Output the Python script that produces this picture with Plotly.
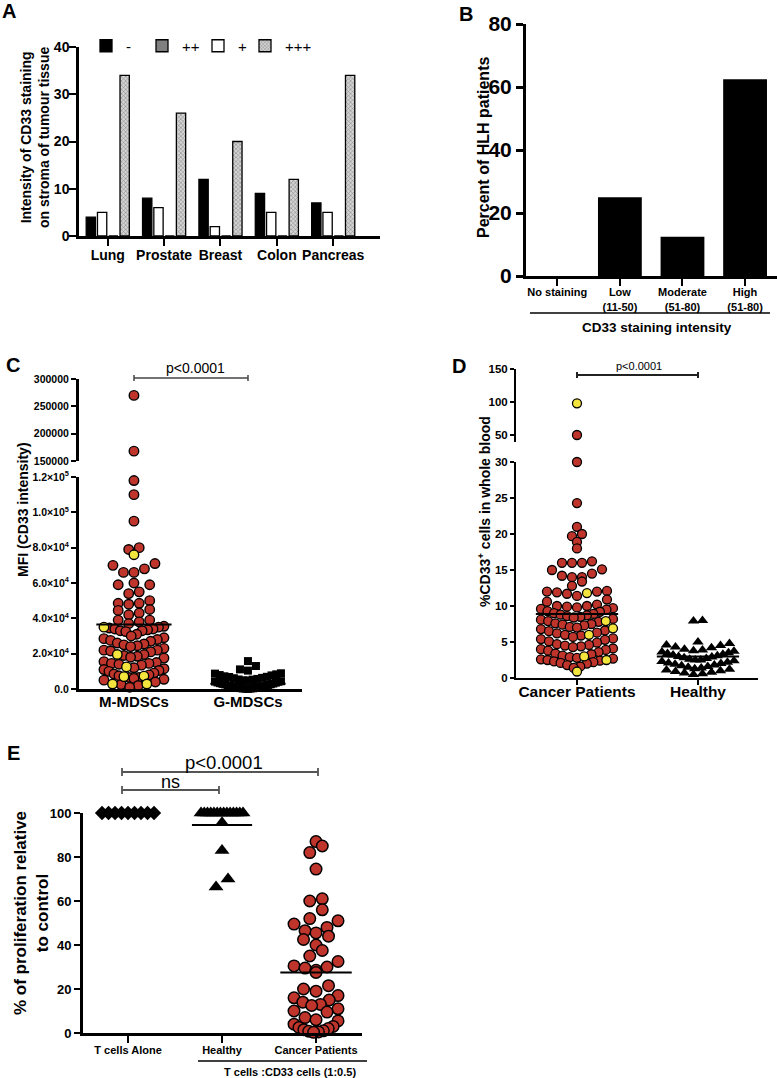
import math
import plotly.graph_objects as go

# ------------------------------------------------------------------ data
# Panel A
a_categories = ["Lung", "Prostate", "Breast", "Colon", "Pancreas"]
a_neg = [4, 8, 12, 9, 7]          # "-"
a_plus = [5, 6, 2, 5, 5]          # "+"
a_plus2 = [0, 0, 0, 0, 0]         # "++"
a_plus3 = [34, 26, 20, 12, 34]    # "+++"
a_yticks = [0, 10, 20, 30, 40]

# Panel B
b_categories = ["No staining", "Low<br>(11-50)", "Moderate<br>(51-80)", "High<br>(51-80)"]
b_values = [0, 25, 12.5, 62.5]
b_yticks = [0, 20, 40, 60, 80]

# Panel C
c_categories = ["M-MDSCs", "G-MDSCs"]
c_m_red = [270000, 168000, 118000, 110000, 95000, 80000, 79000, 71000, 70000, 68000,
           66000, 66000, 60000, 59000, 59000, 55000, 54000, 50000, 48500, 48500, 48000,
           45000, 44500, 43000, 42000, 39000, 39000, 38000, 37000, 35500, 35000, 34500,
           34000, 34000, 33500, 33000, 33000, 32500, 31000, 30000, 29000, 28500, 28000,
           27500, 27000, 26000, 25500, 25000, 24500, 24000, 23000, 22000, 22000, 21500,
           21000, 19500, 19000, 18500, 18000, 17500, 15500, 15000, 14500, 14500, 14000,
           13500, 12000, 11500, 11000, 10500, 10000, 9000, 8500, 8000, 7500, 6500, 6500,
           6000, 5500, 5000, 4000, 2500, 2000, 1000]
c_m_yellow = [76000, 35000, 19500, 12500, 7300, 7000, 2800, 2800]
c_g_black = [15800, 13000, 11100, 10400, 8900, 8700, 8300, 7900, 7700, 7200, 6900, 6800,
             6300, 6100, 5700, 5400, 5300, 4900, 4800, 4400, 4200, 4100, 3700, 3600, 3300,
             3100, 2900, 2700, 2600, 2300, 2100, 2000, 1700, 1500, 1400, 1200, 1100, 900,
             800, 600, 500, 400, 300, 250, 200, 100]
c_means = [36500, 3000]
c_low_ticks = [0, 20000, 40000, 60000, 80000, 100000, 120000]
c_low_ticktext = ["0.0", "2.0×10<sup>4</sup>", "4.0×10<sup>4</sup>", "6.0×10<sup>4</sup>",
                  "8.0×10<sup>4</sup>", "1.0×10<sup>5</sup>", "1.2×10<sup>5</sup>"]
c_up_ticks = [150000, 200000, 250000, 300000]
c_up_ticktext = ["150000", "200000", "250000", "300000"]

# Panel D
d_categories = ["Cancer Patients", "Healthy"]
d_cancer_red = [50, 30, 24.3, 21.0, 20.0, 19.7, 18.9, 18.0, 16.2, 16.0, 16.0, 16.0, 15.1,
                15.0, 14.5, 14.2, 14.0, 14.0, 13.4, 12.8, 12.1, 12.0, 12.0, 11.9, 11.7, 11.4,
                10.9, 10.6, 10.2, 10.0, 10.0, 9.9, 9.8, 9.7, 9.6, 9.5, 9.3, 9.2, 9.0, 8.9,
                8.8, 8.7, 8.6, 8.5, 8.4, 8.2, 8.1, 7.9, 7.8, 7.6, 7.5, 7.4, 7.3, 7.1, 7.0,
                6.8, 6.6, 6.5, 6.3, 6.2, 6.0, 5.9, 5.7, 5.5, 5.4, 5.3, 5.1, 4.9, 4.7, 4.6,
                4.5, 4.4, 4.3, 4.1, 4.0, 3.9, 3.8, 3.6, 3.4, 3.3, 3.1, 2.9, 2.8, 2.7, 2.6,
                2.5, 2.4, 2.3, 2.2, 2.1, 2.0, 1.8, 1.6, 1.4]
d_cancer_yellow = [98, 11.8, 7.9, 6.9, 6.0, 3.0, 2.5, 0.9]
d_healthy = [8.0, 7.9, 5.0, 4.8, 4.6, 4.5, 4.3, 4.2, 4.0, 3.9, 3.8, 3.7, 3.6, 3.5, 3.4,
             3.3, 3.2, 3.1, 3.0, 2.9, 2.8, 2.7, 2.6, 2.5, 2.5, 2.4, 2.3, 2.2, 2.1, 2.0,
             1.9, 1.8, 1.7, 1.6, 1.5, 1.4, 1.3, 1.2, 1.1, 1.0, 0.9, 0.8, 0.7, 0.6, 0.5]
d_means = [8.9, 3.0]
d_low_ticks = [0, 5, 10, 15, 20, 25, 30]
d_up_ticks = [50, 100, 150]

# Panel E
e_categories = ["T cells Alone", "Healthy", "Cancer Patients"]
e_alone = [100, 100, 100, 100, 100, 100, 100, 100, 100]
e_healthy = [100, 100, 100, 100, 100, 100, 100, 100, 100, 100, 100, 100, 100, 100,
             95.6, 83, 70, 66.4]
e_cancer = [87, 85, 82, 74.5, 61, 60, 56, 52, 51, 49.5, 48, 46.5, 45.5, 44, 42.5, 40,
            37.5, 35, 32.5, 30.5, 30, 29.5, 28.5, 27.5, 21.5, 20, 19, 17, 16, 15, 14, 13,
            12.5, 11, 10, 9.5, 7, 6, 5.5, 4, 3, 2.5, 2, 1.5, 1, 0.8, 0.5, 0.3]
e_means = [100, 94.5, 27.5]
e_yticks = [0, 20, 40, 60, 80, 100]

# ------------------------------------------------------------------ helpers
W, H = 777, 1078
def X(p): return p / W
def Y(p): return 1 - p / H

FONT = "Liberation Sans, Arial, Helvetica, sans-serif"
RED = "#c0352b"
YEL = "#f3e53d"


def swarm(values, y_px_per_unit, x_px_per_unit, d, max_hw):
    """GraphPad-like scatter: bin by height d px, spread each bin sideways."""
    order = sorted(range(len(values)), key=lambda i: values[i])
    bins = {}
    for i in order:
        bins.setdefault(math.floor(values[i] * y_px_per_unit / d + 1e-9), []).append(i)
    off = [0.0] * len(values)
    for members in bins.values():
        n = len(members)
        if n == 1:
            continue
        s = min(d, 2 * max_hw / (n - 1))
        slots = sorted([(k - (n - 1) / 2) * s for k in range(n)],
                       key=lambda v: (round(abs(v), 6), v))
        for m, sl in zip(members, slots):
            off[m] = sl / x_px_per_unit
    return off


fig = go.Figure()

# ------------------------------------------------------------------ Panel A
pattern3 = dict(shape="x", fgcolor="#3a3a3a", bgcolor="#d4d4d4", size=3, solidity=0.35)
a_series = [
    ("-", a_neg, "#000000", None, "legend"),
    ("+", a_plus, "#ffffff", None, "legend3"),
    ("++", a_plus2, "#808080", None, "legend2"),
    ("+++", a_plus3, "#c8c8c8", pattern3, "legend4"),
]
for name, vals, col, pat, leg in a_series:
    marker = dict(color=col, line=dict(color="black", width=1.3))
    if pat:
        marker["pattern"] = pat
    fig.add_trace(go.Bar(x=a_categories, y=vals, name=name, marker=marker,
                         xaxis="x", yaxis="y", legend=leg, showlegend=True))

# ------------------------------------------------------------------ Panel B
fig.add_trace(go.Bar(x=b_categories, y=b_values, width=0.7,
                     marker=dict(color="black", line=dict(color="black", width=0)),
                     xaxis="x2", yaxis="y2", showlegend=False))

# ------------------------------------------------------------------ Panel C
C_YPP = 212 / 120000
C_XPP = 114
C_BREAK = 130000
m_all = [(v, RED) for v in c_m_red] + [(v, YEL) for v in c_m_yellow]
m_low = [p for p in m_all if p[0] <= C_BREAK]
m_up = [p for p in m_all if p[0] > C_BREAK]
off = swarm([v for v, _ in m_low], C_YPP, C_XPP, 10.5, 30)
for col in (RED, YEL):
    xs = [0 + o for (v, c), o in zip(m_low, off) if c == col]
    ys = [v for (v, c) in m_low if c == col]
    fig.add_trace(go.Scatter(x=xs, y=ys, mode="markers", xaxis="x3", yaxis="y3",
                             marker=dict(symbol="circle", size=9.5, color=col,
                                         line=dict(color="black", width=1.4)),
                             cliponaxis=False, showlegend=False))
fig.add_trace(go.Scatter(x=[0] * len(m_up), y=[v for v, _ in m_up], mode="markers",
                         xaxis="x3", yaxis="y4",
                         marker=dict(symbol="circle", size=9.5, color=[c for _, c in m_up],
                                     line=dict(color="black", width=1.4)),
                         cliponaxis=False, showlegend=False))
goff = swarm(c_g_black, C_YPP, C_XPP, 8, 33)
fig.add_trace(go.Scatter(x=[1 + o for o in goff], y=c_g_black, mode="markers",
                         xaxis="x3", yaxis="y3",
                         marker=dict(symbol="square", size=8, color="black"),
                         cliponaxis=False, showlegend=False))
for i, m in enumerate(c_means):
    fig.add_trace(go.Scatter(x=[i - 0.33, i + 0.33], y=[m, m], mode="lines",
                             line=dict(color="black", width=2), xaxis="x3", yaxis="y3",
                             cliponaxis=False, showlegend=False))

# ------------------------------------------------------------------ Panel D
D_YPP = 216 / 30
D_XPP = 121
D_BREAK = 35
d_all = [(v, RED) for v in d_cancer_red] + [(v, YEL) for v in d_cancer_yellow]
d_low = [p for p in d_all if p[0] <= D_BREAK]
d_up = [p for p in d_all if p[0] > D_BREAK]
off = swarm([v for v, _ in d_low], D_YPP, D_XPP, 10, 36)
for col in (RED, YEL):
    xs = [0 + o for (v, c), o in zip(d_low, off) if c == col]
    ys = [v for (v, c) in d_low if c == col]
    fig.add_trace(go.Scatter(x=xs, y=ys, mode="markers", xaxis="x5", yaxis="y5",
                             marker=dict(symbol="circle", size=9, color=col,
                                         line=dict(color="black", width=1.3)),
                             cliponaxis=False, showlegend=False))
fig.add_trace(go.Scatter(x=[0] * len(d_up), y=[v for v, _ in d_up], mode="markers",
                         xaxis="x5", yaxis="y6",
                         marker=dict(symbol="circle", size=9, color=[c for _, c in d_up],
                                     line=dict(color="black", width=1.3)),
                         cliponaxis=False, showlegend=False))
hoff = swarm(d_healthy, D_YPP, D_XPP, 9, 36)
fig.add_trace(go.Scatter(x=[1 + o for o in hoff], y=d_healthy, mode="markers",
                         xaxis="x5", yaxis="y5",
                         marker=dict(symbol="triangle-up", size=10, color="black"),
                         cliponaxis=False, showlegend=False))
for i, m in enumerate(d_means):
    fig.add_trace(go.Scatter(x=[i - 0.34, i + 0.34], y=[m, m], mode="lines",
                             line=dict(color="black", width=2), xaxis="x5", yaxis="y5",
                             cliponaxis=False, showlegend=False))

# ------------------------------------------------------------------ Panel E
E_YPP = 2.2
E_XPP = 94
aoff = swarm(e_alone, E_YPP, E_XPP, 10, 26)
fig.add_trace(go.Scatter(x=[0 + o for o in aoff], y=e_alone, mode="markers",
                         xaxis="x6", yaxis="y7",
                         marker=dict(symbol="diamond", size=11, color="black"),
                         cliponaxis=False, showlegend=False))
hoff = swarm(e_healthy, E_YPP, E_XPP, 12, 21)
fig.add_trace(go.Scatter(x=[1 + o for o in hoff], y=e_healthy, mode="markers",
                         xaxis="x6", yaxis="y7",
                         marker=dict(symbol="triangle-up", size=13, color="black"),
                         cliponaxis=False, showlegend=False))
coff = swarm(e_cancer, E_YPP, E_XPP, 12.5, 22)
fig.add_trace(go.Scatter(x=[2 + o for o in coff], y=e_cancer, mode="markers",
                         xaxis="x6", yaxis="y7",
                         marker=dict(symbol="circle", size=11.5, color=RED,
                                     line=dict(color="black", width=1.5)),
                         cliponaxis=False, showlegend=False))
for i, m in enumerate(e_means):
    hw = 0.38 if i == 2 else 0.32
    fig.add_trace(go.Scatter(x=[i - hw, i + hw], y=[m, m], mode="lines",
                             line=dict(color="black", width=2), xaxis="x6", yaxis="y7",
                             cliponaxis=False, showlegend=False))

# ------------------------------------------------------------------ axes
def ax(lw=3, tl=6, tw=2, size=12, **kw):
    d = dict(showline=True, linecolor="black", linewidth=lw, ticks="outside",
             ticklen=tl, tickwidth=tw, tickcolor="black", showgrid=False, zeroline=False,
             automargin=False, fixedrange=True,
             tickfont=dict(family=FONT, size=size, color="black", weight="bold"))
    d.update(kw)
    return d

layout_axes = dict(
    xaxis=ax(lw=2.5, tl=7, size=14, domain=[X(79), X(380)], anchor="y",
             range=[-0.51, 4.83], type="category", ticklabelstandoff=-3),
    yaxis=ax(lw=2.5, tl=7, size=14, domain=[Y(236), Y(47)], anchor="x",
             range=[0, 40], tickvals=a_yticks, ticklabelstandoff=-3),
    xaxis2=ax(lw=3, tl=7, size=11, domain=[X(526), 1.0], anchor="y2",
              range=[-0.5, 3.51], type="category", ticklabelstandoff=-3),
    yaxis2=ax(lw=3, tl=7, tw=3, size=21, domain=[Y(276), Y(24)], anchor="x2",
              range=[0, 80], tickvals=b_yticks),
    xaxis3=ax(lw=3, tl=0, size=15, domain=[X(79), X(302)], anchor="y3", ticks="",
              range=[-0.482, 1.474], tickvals=[0, 1], ticktext=c_categories,
              ticklabelstandoff=-3),
    yaxis3=ax(lw=3, tl=5, size=10.5, domain=[Y(689), Y(477)], anchor="x3",
              range=[0, 120000], tickvals=c_low_ticks, ticktext=c_low_ticktext),
    yaxis4=ax(lw=3, tl=5, size=10.5, domain=[Y(461), Y(379)], anchor="x3",
              range=[150000, 300000], tickvals=c_up_ticks, ticktext=c_up_ticktext),
    xaxis5=ax(lw=2, tl=5, size=15.5, domain=[X(516), X(758)], anchor="y5",
              range=[-0.504, 1.496], tickvals=[0, 1], ticktext=d_categories,
              ticklabelstandoff=-7),
    yaxis5=ax(lw=2, tl=4, size=11.5, domain=[Y(678), Y(462)], anchor="x5",
              range=[0, 30], tickvals=d_low_ticks),
    yaxis6=ax(lw=2, tl=4, size=11.5, domain=[Y(442), Y(369)], anchor="x5",
              range=[39.4, 150], tickvals=d_up_ticks),
    xaxis6=ax(lw=3, tl=7, size=11, domain=[X(83), X(362)], anchor="y7",
              range=[-0.479, 2.489], tickvals=[0, 1, 2], ticktext=e_categories,
              ticklabelstandoff=-2),
    yaxis7=ax(lw=3, tl=6, size=13, domain=[Y(1033), Y(813)], anchor="x6",
              range=[0, 100], tickvals=e_yticks),
)

# ------------------------------------------------------------------ annotations
anns = []
def ann(text, x, y, size, bold=True, angle=0, xa="center", ya="middle", family=FONT):
    anns.append(dict(text=text, x=X(x), y=Y(y), xref="paper", yref="paper",
                     showarrow=False, textangle=angle, xanchor=xa, yanchor=ya,
                     font=dict(family=family, size=size, color="black",
                               weight="bold" if bold else "normal")))

for letter, lx, ly in [("A", 9, 11), ("B", 466, 14), ("C", 13, 365), ("D", 459, 366), ("E", 13, 753)]:
    ann(letter, lx, ly, 20)

ann("Intensity of CD33 staining<br>on stroma of tumour tissue", 35, 138, 14, angle=-90)
ann("Percent of HLH patients", 484, 148, 16, angle=-90)
ann("CD33 staining intensity", 657, 327, 13.5)
ann("MFI (CD33 intensity)", 23, 510, 14, angle=-90)
ann("%CD33<sup>+</sup> cells in whole blood", 484, 512, 14, angle=-90)
ann("% of proliferation relative<br>to control", 31, 913, 17, angle=-90)
ann("p<0.0001", 196, 368, 14, bold=False)
ann("p<0.0001", 639, 366, 11, bold=False)
ann("p<0.0001", 224, 762, 18.5, bold=False)
ann("ns", 170, 782, 18, bold=False)
ann("T cells :CD33 cells (1:0.5)", 290, 1072, 11)

shapes = []
def hline(x0, x1, y, w=1.5, col="black"):
    shapes.append(dict(type="line", xref="paper", yref="paper", x0=X(x0), x1=X(x1),
                       y0=Y(y), y1=Y(y), line=dict(color=col, width=w)))
def vline(x, y0, y1, w=1.5, col="black"):
    shapes.append(dict(type="line", xref="paper", yref="paper", x0=X(x), x1=X(x),
                       y0=Y(y0), y1=Y(y1), line=dict(color=col, width=w)))
def bracket(x0, x1, y, tick, w=1.5, col="#444444"):
    hline(x0, x1, y, w, col)
    vline(x0, y - tick, y + tick, w, col)
    vline(x1, y - tick, y + tick, w, col)

hline(530, 770, 313, 1.5)
hline(198, 367, 1061, 1.5)
bracket(134, 248, 378, 3)
bracket(577, 698, 375, 3, w=2, col="#222222")
bracket(122, 318, 772, 4, w=1.8, col="#555555")
bracket(122, 219, 790, 4, w=1.8, col="#555555")

legend_common = dict(orientation="h", yanchor="middle", xanchor="left", y=Y(46),
                     bgcolor="rgba(0,0,0,0)", font=dict(family=FONT, size=15, color="black"),
                     itemwidth=30, borderwidth=0)

fig.update_layout(
    width=W, height=H, margin=dict(l=0, r=0, t=0, b=0, pad=0, autoexpand=False),
    paper_bgcolor="white", plot_bgcolor="white",
    barmode="group", bargap=0.2, bargroupgap=0.175,
    font=dict(family=FONT, color="black"),
    annotations=anns, shapes=shapes,
    legend=dict(x=X(86), **legend_common),
    legend2=dict(x=X(142), **legend_common),
    legend3=dict(x=X(198), **legend_common),
    legend4=dict(x=X(245), **legend_common),
    **layout_axes,
)

fig.write_html("out.html", config={"displayModeBar": False},
               post_script="document.body.style.margin='0';document.body.style.padding='0';")
